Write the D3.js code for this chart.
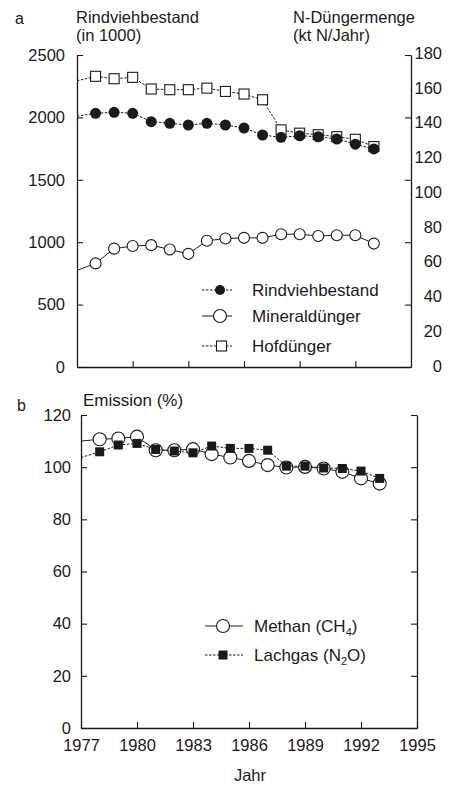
<!DOCTYPE html>
<html><head><meta charset="utf-8">
<script src="https://cdn.jsdelivr.net/npm/d3@7"></script>
<style>
body{margin:0;background:#fff}
text{font-family:"Liberation Sans",Arial,sans-serif;fill:#1a1a1a}
</style>
</head><body>
<svg id="c" width="451" height="786"></svg>
<script>
// ---- data ----
const years = [1977,1978,1979,1980,1981,1982,1983,1984,1985,1986,1987,1988,1989,1990,1991,1992,1993];
const rindvieh = [2010,2033,2041,2033,1966,1953,1939,1953,1939,1915,1859,1840,1853,1845,1827,1785,1747]; // in 1000
const mineral  = [55,59,67.5,69,69.5,67,64.5,72,73.3,73.7,73.7,75.8,75.8,74.8,75.2,75.2,70.4];       // kt N/Jahr
const hof      = [164,166.6,165.2,166,159.3,158.9,158.9,159.8,157.9,156.4,153.1,135.8,133.9,133,131.9,130.4,126.2];
const methan   = [110,110.7,111,111.7,106.5,106.5,106.9,105,103.7,102.4,100.8,99.9,100.1,99.5,98.2,95.7,93.7];
const lachgas  = [103.7,105.9,108.5,109.1,106.8,106.2,105.5,108.1,107.2,107.2,106.5,100.4,100.4,99.7,99.5,98.5,95.7];
const leftTicksA = [0,500,1000,1500,2000,2500];
const rightTicksA = [0,20,40,60,80,100,120,140,160,180];
const yTicksB = [0,20,40,60,80,100,120];
const xTicks = [1977,1980,1983,1986,1989,1992,1995];
const legendA = ["Rindviehbestand","Mineraldünger","Hofdünger"];

const ink = "#1a1a1a";
const svg = d3.select("#c");

// ---- panel a ----
const xA = d3.scaleLinear().domain([1977,1995]).range([77,411]);
const yL = d3.scaleLinear().domain([0,2500]).range([367,55]);
const yR = d3.scaleLinear().domain([0,180]).range([366,53]);

function styleAxis(g){
  g.selectAll("path.domain").attr("stroke",ink).attr("stroke-width",1.3);
  g.selectAll(".tick line").attr("stroke",ink).attr("stroke-width",1.1);
  g.selectAll("text").style("font-size","16.5px").attr("fill",ink);
}

svg.append("g").attr("transform","translate(77,0)")
  .call(d3.axisLeft(yL).tickValues(leftTicksA).tickSizeInner(-6).tickSizeOuter(0).tickPadding(12).tickFormat(d3.format("d")))
  .call(styleAxis);
svg.append("g").attr("transform","translate(411,0)")
  .call(d3.axisRight(yL).tickValues(leftTicksA).tickSizeInner(-6).tickSizeOuter(0).tickFormat(""))
  .call(styleAxis);
const rl = svg.append("g").attr("transform","translate(411,0)")
  .call(d3.axisRight(yR).tickValues(rightTicksA).tickSize(0).tickPadding(31).tickFormat(d3.format("d")))
  .call(styleAxis);
rl.select("path.domain").remove();
rl.selectAll("text").attr("text-anchor","end");
svg.append("g").attr("transform","translate(0,367)")
  .call(d3.axisBottom(xA).tickValues(xTicks.slice(1,6)).tickSizeInner(-6).tickSizeOuter(0).tickFormat(""))
  .call(styleAxis);

const rowsA = years.map((y,i)=>({year:y,r:rindvieh[i],m:mineral[i],h:hof[i]}));
const marked = d => d.year > 1977;

// Hofdünger
svg.append("path").datum(rowsA)
  .attr("d", d3.line().x(d=>xA(d.year)).y(d=>yR(d.h)))
  .attr("fill","none").attr("stroke",ink).attr("stroke-width",1).attr("stroke-dasharray","2.5,1.5");
svg.append("g").selectAll("rect").data(rowsA.filter(marked)).join("rect")
  .attr("x",d=>xA(d.year)-5).attr("y",d=>yR(d.h)-5).attr("width",10).attr("height",10)
  .attr("fill","#fff").attr("stroke",ink).attr("stroke-width",1.1);

// Rindviehbestand
svg.append("path").datum(rowsA)
  .attr("d", d3.line().x(d=>xA(d.year)).y(d=>yL(d.r)))
  .attr("fill","none").attr("stroke",ink).attr("stroke-width",1).attr("stroke-dasharray","2.5,1.5");
svg.append("g").selectAll("circle").data(rowsA.filter(marked)).join("circle")
  .attr("cx",d=>xA(d.year)).attr("cy",d=>yL(d.r)).attr("r",5.5).attr("fill",ink);

// Mineraldünger
svg.append("path").datum(rowsA)
  .attr("d", d3.line().x(d=>xA(d.year)).y(d=>yR(d.m)))
  .attr("fill","none").attr("stroke",ink).attr("stroke-width",1);
svg.append("g").selectAll("circle").data(rowsA.filter(marked)).join("circle")
  .attr("cx",d=>xA(d.year)).attr("cy",d=>yR(d.m)).attr("r",5.5)
  .attr("fill","#fff").attr("stroke",ink).attr("stroke-width",1.1);

// titles a
svg.append("text").attr("x",15).attr("y",24).style("font-size","16px").text("a");
svg.append("text").attr("x",76).attr("y",23).style("font-size","16.5px").text("Rindviehbestand");
svg.append("text").attr("x",76).attr("y",41).style("font-size","16.5px").text("(in 1000)");
svg.append("text").attr("x",293).attr("y",23).style("font-size","16.5px").text("N-Düngermenge");
svg.append("text").attr("x",293).attr("y",41).style("font-size","16.5px").text("(kt N/Jahr)");

// legend a
const legA = svg.append("g");
const legYA = [290,316,346];
legendA.forEach((name,i)=>{
  const cy = legYA[i];
  legA.append("line").attr("x1",202).attr("x2",232).attr("y1",cy).attr("y2",cy)
    .attr("stroke",ink).attr("stroke-width",1).attr("stroke-dasharray", i===1 ? null : "2.5,1.5");
  if(i===0) legA.append("circle").attr("cx",220).attr("cy",cy).attr("r",5).attr("fill",ink);
  if(i===1) legA.append("circle").attr("cx",220).attr("cy",cy).attr("r",6.5).attr("fill","#fff").attr("stroke",ink).attr("stroke-width",1.1);
  if(i===2) legA.append("rect").attr("x",216.5).attr("y",cy-5).attr("width",10).attr("height",10).attr("fill","#fff").attr("stroke",ink).attr("stroke-width",1.1);
  legA.append("text").attr("x",252).attr("y",cy+6).style("font-size","17px").text(name);
});

// ---- panel b ----
const xB = d3.scaleLinear().domain([1977,1995]).range([81,417]);
const yB = d3.scaleLinear().domain([0,120]).range([728,415]);

svg.append("g").attr("transform","translate(81,0)")
  .call(d3.axisLeft(yB).tickValues(yTicksB).tickSizeInner(-6).tickSizeOuter(0).tickPadding(10).tickFormat(d3.format("d")))
  .call(styleAxis);
svg.append("g").attr("transform","translate(417,0)")
  .call(d3.axisRight(yB).tickValues(yTicksB).tickSizeInner(-6).tickSizeOuter(0).tickFormat(""))
  .call(styleAxis);
svg.append("g").attr("transform","translate(0,728)")
  .call(d3.axisBottom(xB).tickValues(xTicks).tickSizeInner(-6).tickSizeOuter(0).tickPadding(11).tickFormat(d3.format("d")))
  .call(styleAxis);

const rowsB = years.map((y,i)=>({year:y,m:methan[i],l:lachgas[i]}));

svg.append("path").datum(rowsB)
  .attr("d", d3.line().x(d=>xB(d.year)).y(d=>yB(d.m)))
  .attr("fill","none").attr("stroke",ink).attr("stroke-width",1);
svg.append("g").selectAll("circle").data(rowsB.filter(marked)).join("circle")
  .attr("cx",d=>xB(d.year)).attr("cy",d=>yB(d.m)).attr("r",6.5)
  .attr("fill","#fff").attr("stroke",ink).attr("stroke-width",1.1);

svg.append("path").datum(rowsB)
  .attr("d", d3.line().x(d=>xB(d.year)).y(d=>yB(d.l)))
  .attr("fill","none").attr("stroke",ink).attr("stroke-width",1).attr("stroke-dasharray","2.5,1.5");
svg.append("g").selectAll("rect").data(rowsB.filter(marked)).join("rect")
  .attr("x",d=>xB(d.year)-4.5).attr("y",d=>yB(d.l)-4.5).attr("width",9).attr("height",9)
  .attr("fill",ink);

svg.append("text").attr("x",17).attr("y",411).style("font-size","16px").text("b");
svg.append("text").attr("x",83).attr("y",406).style("font-size","17px").text("Emission (%)");
svg.append("text").attr("x",250).attr("y",781).attr("text-anchor","middle").style("font-size","16.5px").text("Jahr");

// legend b
const legB = svg.append("g");
const mY = 626, lY = 655;
legB.append("line").attr("x1",205).attr("x2",243).attr("y1",mY).attr("y2",mY).attr("stroke",ink).attr("stroke-width",1);
legB.append("circle").attr("cx",223).attr("cy",mY).attr("r",6.5).attr("fill","#fff").attr("stroke",ink).attr("stroke-width",1.1);
const tM = legB.append("text").attr("x",254).attr("y",mY+6).style("font-size","17px");
tM.append("tspan").text("Methan (CH");
tM.append("tspan").attr("dy",4).style("font-size","11px").text("4");
tM.append("tspan").attr("dy",-4).text(")");
legB.append("line").attr("x1",205).attr("x2",243).attr("y1",lY).attr("y2",lY).attr("stroke",ink).attr("stroke-width",1).attr("stroke-dasharray","2.5,1.5");
legB.append("rect").attr("x",218.5).attr("y",lY-4.5).attr("width",9).attr("height",9).attr("fill",ink);
const tL = legB.append("text").attr("x",254).attr("y",lY+6).style("font-size","17px");
tL.append("tspan").text("Lachgas (N");
tL.append("tspan").attr("dy",4).style("font-size","11px").text("2");
tL.append("tspan").attr("dy",-4).text("O)");
</script>
</body></html>
